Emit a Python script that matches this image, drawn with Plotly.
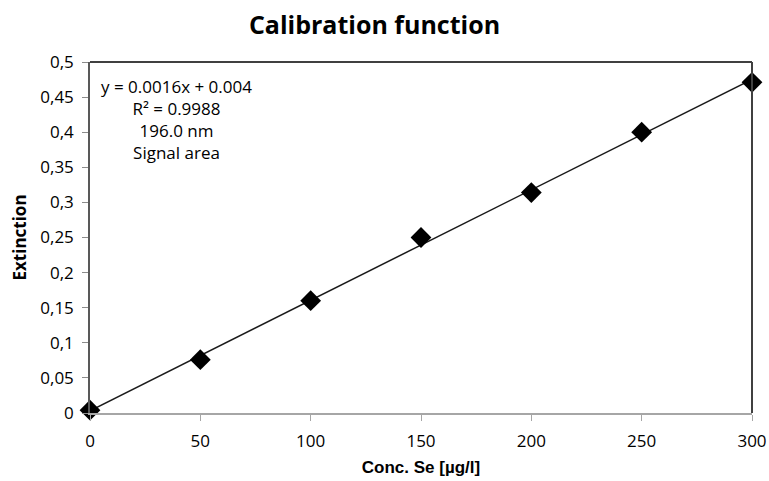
import numpy as np
import plotly.graph_objects as go

conc = [0, 50, 100, 150, 200, 250, 300]
extinction = [0.004, 0.076, 0.160, 0.250, 0.314, 0.400, 0.471]
y_tickvals = [0, 0.05, 0.1, 0.15, 0.2, 0.25, 0.3, 0.35, 0.4, 0.45, 0.5]
y_ticktext = ["0", "0,05", "0,1", "0,15", "0,2", "0,25", "0,3", "0,35", "0,4", "0,45", "0,5"]
x_tickvals = [0, 50, 100, 150, 200, 250, 300]
annotation_lines = ["y = 0.0016x + 0.004", "R² = 0.9988", "196.0 nm", "Signal area"]

slope, intercept = np.polyfit(conc, extinction, 1)
fit_x = [min(conc), max(conc)]
fit_y = [slope * v + intercept for v in fit_x]

font_main = "Open Sans, Noto Sans, sans-serif"

fig = go.Figure()
fig.add_trace(go.Scatter(x=fit_x, y=fit_y, mode="lines",
                         line=dict(color="#1a1a1a", width=1.5), showlegend=False))
fig.add_trace(go.Scatter(x=conc, y=extinction, mode="markers",
                         marker=dict(symbol="diamond", size=16, color="black"),
                         showlegend=False, cliponaxis=False))

fig.update_layout(
    width=769, height=481,
    margin=dict(l=90, r=17, t=62, b=68),
    plot_bgcolor="white", paper_bgcolor="white",
    title=dict(text="<b>Calibration function</b>", x=0.487, xanchor="center",
               y=0.947, yanchor="middle",
               font=dict(family=font_main, size=25, color="black")),
    font=dict(family=font_main, color="black"),
)
fig.update_xaxes(range=[0, 300], tickvals=x_tickvals, showgrid=False, zeroline=False,
                 showline=True, linecolor="#a6a6a6", linewidth=1.5,
                 ticks="outside", ticklen=6, tickcolor="#a6a6a6",
                 ticklabelstandoff=6, automargin=False,
                 tickfont=dict(size=17, family=font_main),
                 title=dict(text="<b>Conc. Se [µg/l]</b>", standoff=10,
                            font=dict(size=17, family="Liberation Sans, Arial, sans-serif")))
fig.update_yaxes(range=[0, 0.5], tickvals=y_tickvals, ticktext=y_ticktext,
                 showgrid=False, zeroline=False,
                 showline=True, linecolor="#595959", linewidth=1.5,
                 ticks="outside", ticklen=6, tickcolor="#8c8c8c",
                 ticklabelstandoff=5, automargin=False,
                 tickfont=dict(size=17, family=font_main),
                 title=dict(text="<b>Extinction</b>", standoff=9,
                            font=dict(size=17, family=font_main)))

# top and right border
fig.add_shape(type="line", xref="paper", yref="paper", x0=0, x1=1, y0=1, y1=1,
              line=dict(color="#404040", width=2))
fig.add_shape(type="line", xref="paper", yref="paper", x0=1, x1=1, y0=0, y1=1,
              line=dict(color="#404040", width=2))

fig.add_annotation(text="<br>".join(annotation_lines), xref="paper", yref="paper",
                   x=0.13, y=0.968, xanchor="center", yanchor="top", showarrow=False,
                   align="center", font=dict(size=17, family=font_main, color="black"))

fig.write_html("out.html",
               config={"displayModeBar": False},
               post_script="document.body.style.margin='0';document.body.style.overflow='hidden';")
